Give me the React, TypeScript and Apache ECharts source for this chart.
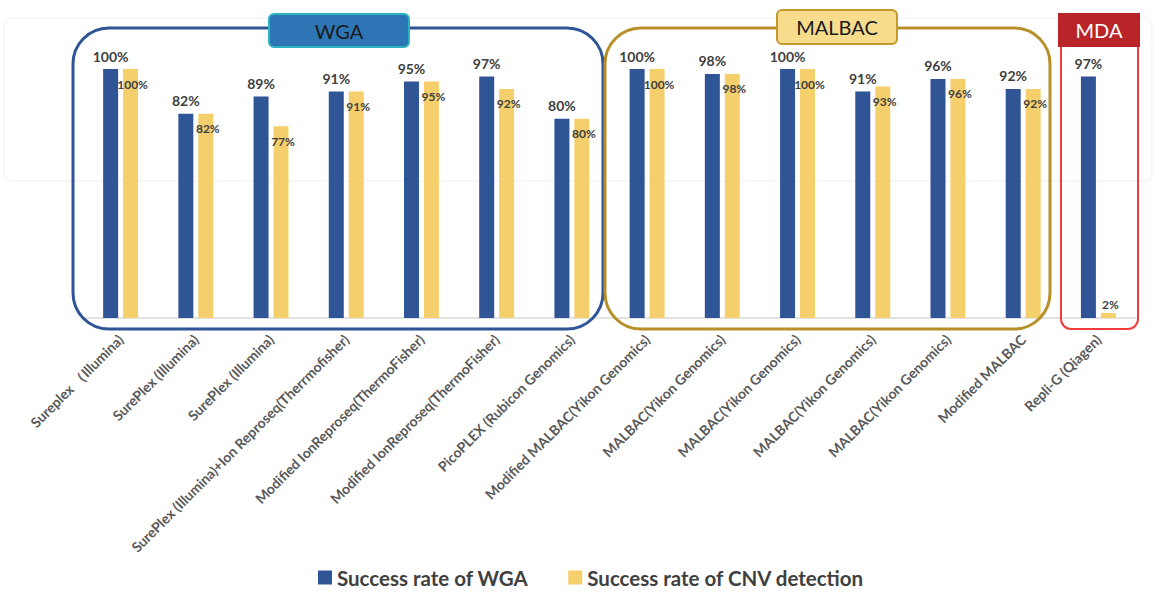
import React, { useEffect, useRef } from "react";
import * as echarts from "echarts";

const categories = [
  "Sureplex （Illumina)",
  "SurePlex (Illumina)",
  "SurePlex (Illumina)",
  "SurePlex (Illumina)+Ion Reproseq(Therrmofisher)",
  "Modified IonReproseq(ThermoFisher)",
  "Modified IonReproseq(ThermoFisher)",
  "PicoPLEX (Rubicon Genomics)",
  "Modified MALBAC(Yikon Genomics)",
  "MALBAC(Yikon Genomics)",
  "MALBAC(Yikon Genomics)",
  "MALBAC(Yikon Genomics)",
  "MALBAC(Yikon Genomics)",
  "Modified MALBAC",
  "Repli-G (Qiagen)",
];

const wgaRate = [100, 82, 89, 91, 95, 97, 80, 100, 98, 100, 91, 96, 92, 97];
const cnvRate = [100, 82, 77, 91, 95, 92, 80, 100, 98, 100, 93, 96, 92, 2];

const seriesNames = ["Success rate of WGA", "Success rate of CNV detection"];
const groupTitles = ["WGA", "MALBAC", "MDA"];

const FONT = "Lato, 'Open Sans', sans-serif";

export default function App() {
  const ref = useRef<HTMLDivElement>(null);

  useEffect(() => {
    if (!ref.current) return;
    const chart = echarts.init(ref.current, null, { renderer: "svg" });

    const cnvData = cnvRate.map((v, i) =>
      i === cnvRate.length - 1
        ? { value: v, label: { position: "top", distance: 3 } }
        : v
    );

    chart.setOption({
      animation: false,
      backgroundColor: "#ffffff",
      textStyle: { fontFamily: FONT },
      grid: { left: 83, right: 23, top: 69, bottom: 275, containLabel: false },
      legend: {
        bottom: 0,
        left: 313,
        itemWidth: 14,
        itemHeight: 14,
        itemGap: 40,
        icon: "rect",
        textStyle: { fontSize: 20.5, fontWeight: "bold", color: "#404040", fontFamily: FONT },
        data: seriesNames,
      },
      xAxis: {
        type: "category",
        data: categories,
        axisLine: { lineStyle: { color: "#d9d9d9", width: 1.5 } },
        axisTick: { show: false },
        axisLabel: {
          rotate: 45,
          interval: 0,
          fontSize: 14,
          fontWeight: "bold",
          color: "#595959",
          fontFamily: FONT,
          margin: 19,
        },
      },
      yAxis: {
        type: "value",
        min: 0,
        max: 100,
        show: false,
        splitLine: { show: false },
      },
      series: [
        {
          name: seriesNames[0],
          type: "bar",
          data: wgaRate,
          barWidth: 15,
          barGap: "33%",
          itemStyle: { color: "#2F5597" },
          label: {
            show: true,
            position: "top",
            distance: 6,
            formatter: "{c}%",
            fontSize: 14,
            fontWeight: "bold",
            color: "#404040",
            fontFamily: FONT,
          },
        },
        {
          name: seriesNames[1],
          type: "bar",
          data: cnvData,
          barWidth: 15,
          itemStyle: { color: "#F4CF6C" },
          label: {
            show: true,
            position: "insideTop",
            distance: 9,
            offset: [2, 0],
            formatter: "{c}%",
            fontSize: 12,
            fontWeight: "bold",
            color: "#404040",
            fontFamily: FONT,
          },
        },
      ],
      graphic: [
        {
          type: "rect",
          z: 0,
          silent: true,
          shape: { x: 4, y: 18, width: 1148, height: 163, r: 8 },
          style: { fill: "none", stroke: "#f5f5f5", lineWidth: 1.5 },
        },
        {
          type: "rect",
          z: 50,
          silent: true,
          shape: { x: 73, y: 28, width: 530, height: 301, r: 36 },
          style: { fill: "none", stroke: "#2F5597", lineWidth: 3 },
        },
        {
          type: "rect",
          z: 51,
          silent: true,
          shape: { x: 269, y: 14, width: 140, height: 33, r: 5 },
          style: { fill: "#2E75B6", stroke: "#2BB3BF", lineWidth: 2 },
        },
        {
          type: "text",
          z: 52,
          silent: true,
          x: 339,
          y: 31,
          style: {
            text: groupTitles[0],
            fill: "#1a1a1a",
            fontSize: 20,
            fontFamily: FONT,
            align: "center",
            verticalAlign: "middle",
          },
        },
        {
          type: "rect",
          z: 50,
          silent: true,
          shape: { x: 605, y: 28, width: 445, height: 301, r: 36 },
          style: { fill: "none", stroke: "#B8902A", lineWidth: 3 },
        },
        {
          type: "rect",
          z: 51,
          silent: true,
          shape: { x: 777, y: 10, width: 120, height: 34, r: 5 },
          style: { fill: "#F7DC8E", stroke: "#C49A2E", lineWidth: 2 },
        },
        {
          type: "text",
          z: 52,
          silent: true,
          x: 837,
          y: 27,
          style: {
            text: groupTitles[1],
            fill: "#1a1a1a",
            fontSize: 20,
            fontFamily: FONT,
            align: "center",
            verticalAlign: "middle",
          },
        },
        {
          type: "rect",
          z: 50,
          silent: true,
          shape: { x: 1061, y: 46, width: 77, height: 283, r: [0, 0, 10, 10] },
          style: { fill: "none", stroke: "#F23B3B", lineWidth: 2 },
        },
        {
          type: "rect",
          z: 51,
          silent: true,
          shape: { x: 1058, y: 13, width: 82, height: 34 },
          style: { fill: "#B82428" },
        },
        {
          type: "text",
          z: 52,
          silent: true,
          x: 1099,
          y: 30,
          style: {
            text: groupTitles[2],
            fill: "#ffffff",
            fontSize: 20,
            fontFamily: FONT,
            align: "center",
            verticalAlign: "middle",
          },
        },
      ],
    });

    return () => chart.dispose();
  }, []);

  return (
    <div
      ref={ref}
      style={{ position: "absolute", left: 0, top: 0, width: 1159, height: 593 }}
    />
  );
}
